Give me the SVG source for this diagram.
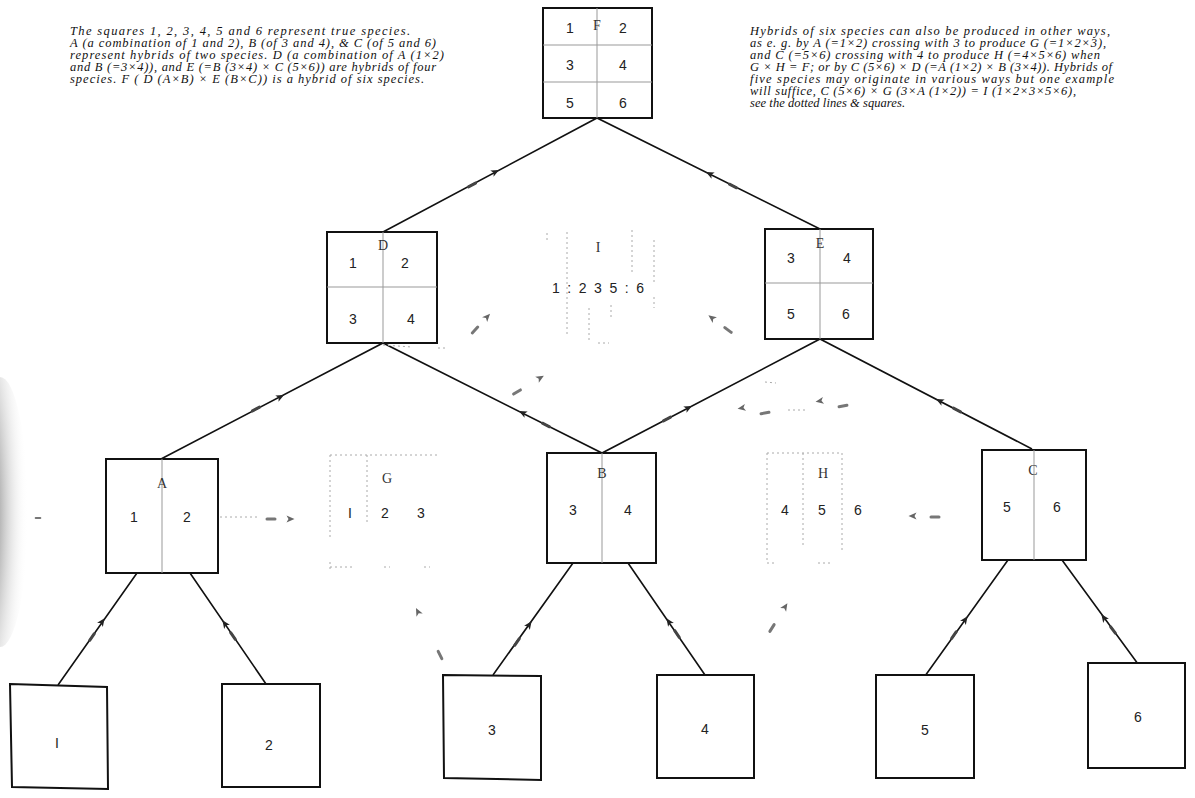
<svg xmlns="http://www.w3.org/2000/svg" xmlns:xlink="http://www.w3.org/1999/xlink" width="1195" height="798" viewBox="0 0 1195 798">
<style>
.box{fill:#fff;stroke:#111;stroke-width:2}
.div{stroke:#999;stroke-width:1;fill:none}
.dot{stroke:#aaa;stroke-width:1;stroke-dasharray:2 3;fill:none}
.ln{stroke:#111;stroke-width:1.6;fill:none}
.num{font-family:"Liberation Sans",Arial,sans-serif;font-size:14px;fill:#222;text-anchor:middle}
.lab{font-family:"Liberation Serif","Times New Roman",serif;font-size:14px;fill:#333;text-anchor:middle}
.txt{font-family:"Liberation Serif","Times New Roman",serif;font-style:italic;font-size:12.5px;fill:#111}
.ah{fill:#222}
.dh{stroke:#444;stroke-width:3;stroke-linecap:round}
.fah{fill:#666}
.fdh{stroke:#777;stroke-width:3;stroke-linecap:round}
</style>
<defs>
<path id="ah" d="M4.5,0 L-3.5,-3.5 L-1.5,0 L-3.5,3.5 Z"/>
<path id="dh" d="M-4,0 L4,0"/>
<radialGradient id="shadow" cx="0" cy="0.5" r="1">
<stop offset="0" stop-color="#333" stop-opacity="1"/>
<stop offset="0.5" stop-color="#888" stop-opacity="0.6"/>
<stop offset="1" stop-color="#fff" stop-opacity="0"/>
</radialGradient>
</defs>
<rect width="1195" height="798" fill="#fff"/>
<ellipse cx="0" cy="512" rx="28" ry="135" fill="url(#shadow)"/>

<g id="text-left" class="txt">
<text x="70" y="35" textLength="340" lengthAdjust="spacing">The squares 1, 2, 3, 4, 5 and 6 represent true species.</text>
<text x="70" y="47" textLength="366" lengthAdjust="spacing">A (a combination of 1 and 2), B (of 3 and 4), &amp; C (of 5 and 6)</text>
<text x="70" y="59" textLength="374" lengthAdjust="spacing">represent hybrids of two species. D (a combination of A (1×2)</text>
<text x="70" y="71" textLength="366" lengthAdjust="spacing">and B (=3×4)), and E (=B (3×4) × C (5×6)) are hybrids of four</text>
<text x="70" y="83" textLength="354" lengthAdjust="spacing">species. F ( D (A×B) × E (B×C)) is a hybrid of six species.</text>
</g>
<g id="text-right" class="txt">
<text x="750" y="35" textLength="360" lengthAdjust="spacing">Hybrids of six species can also be produced in other ways,</text>
<text x="750" y="47" textLength="356" lengthAdjust="spacing">as e. g. by A (=1×2) crossing with 3 to produce G (=1×2×3),</text>
<text x="750" y="59" textLength="350" lengthAdjust="spacing">and C (=5×6) crossing with 4 to produce H (=4×5×6) when</text>
<text x="750" y="71" textLength="362" lengthAdjust="spacing">G × H = F; or by C (5×6) × D (=A (1×2) × B (3×4)). Hybrids of</text>
<text x="750" y="83" textLength="364" lengthAdjust="spacing">five species may originate in various ways but one example</text>
<text x="750" y="95" textLength="326" lengthAdjust="spacing">will suffice, C (5×6) × G (3×A (1×2)) = I (1×2×3×5×6),</text>
<text x="750" y="107" textLength="155" lengthAdjust="spacing">see the dotted lines &amp; squares.</text>
</g>

<g id="connectors">
<path class="ln" d="M383,232 L597,118 L820,229"/>
<path class="ln" d="M161,459 L383,343 L602,453 L820,339 L1032,449"/>
<path class="ln" d="M58,685 L137,573 M190,573 L266,684"/>
<path class="ln" d="M493,675 L573,563 M628,563 L705,675"/>
<path class="ln" d="M925,676 L1008,560 M1062,560 L1138,664"/>
<g class="ah">
<use xlink:href="#ah" transform="translate(495,172) rotate(-28)"/>
<use xlink:href="#ah" transform="translate(710,174) rotate(-153.5)"/>
<use xlink:href="#ah" transform="translate(280,397) rotate(-27.6)"/>
<use xlink:href="#ah" transform="translate(523,413) rotate(-153.3)"/>
<use xlink:href="#ah" transform="translate(688,408) rotate(-27.6)"/>
<use xlink:href="#ah" transform="translate(940,401) rotate(-152.6)"/>
<use xlink:href="#ah" transform="translate(102,622) rotate(-54.8)"/>
<use xlink:href="#ah" transform="translate(225,624) rotate(-125.5)"/>
<use xlink:href="#ah" transform="translate(529,625) rotate(-54.5)"/>
<use xlink:href="#ah" transform="translate(669,622) rotate(-124.5)"/>
<use xlink:href="#ah" transform="translate(965,620) rotate(-54.4)"/>
<use xlink:href="#ah" transform="translate(1104,618) rotate(-126.2)"/>
</g>
<g class="dh">
<use xlink:href="#dh" transform="translate(472,185) rotate(-28)"/>
<use xlink:href="#dh" transform="translate(733,186) rotate(-153.5)"/>
<use xlink:href="#dh" transform="translate(256,409) rotate(-27.6)"/>
<use xlink:href="#dh" transform="translate(546,425) rotate(-153.3)"/>
<use xlink:href="#dh" transform="translate(667,419) rotate(-27.6)"/>
<use xlink:href="#dh" transform="translate(957,410) rotate(-152.6)"/>
<use xlink:href="#dh" transform="translate(92,637) rotate(-54.8)"/>
<use xlink:href="#dh" transform="translate(233,636) rotate(-125.5)"/>
<use xlink:href="#dh" transform="translate(517,642) rotate(-54.5)"/>
<use xlink:href="#dh" transform="translate(677,634) rotate(-124.5)"/>
<use xlink:href="#dh" transform="translate(954,635) rotate(-54.4)"/>
<use xlink:href="#dh" transform="translate(1113,630) rotate(-126.2)"/>
</g>
<path class="dot" d="M220,517 L258,517 M383,345 L412,347 M438,348 L448,348"/>
<g class="fah">
<use xlink:href="#ah" transform="translate(290,519)"/>
<use xlink:href="#ah" transform="translate(418,612) rotate(-117)"/>
<use xlink:href="#ah" transform="translate(487,317) rotate(-47)"/>
<use xlink:href="#ah" transform="translate(540,378) rotate(-31)"/>
<use xlink:href="#ah" transform="translate(712,318) rotate(-143)"/>
<use xlink:href="#ah" transform="translate(742,408) rotate(170)"/>
<use xlink:href="#ah" transform="translate(820,401) rotate(170)"/>
<use xlink:href="#ah" transform="translate(785,607) rotate(-58)"/>
<use xlink:href="#ah" transform="translate(913,516) rotate(180)"/>
</g>
<g class="fdh">
<use xlink:href="#dh" transform="translate(271,519)"/>
<use xlink:href="#dh" transform="translate(440,655) rotate(-117)"/>
<use xlink:href="#dh" transform="translate(475,330) rotate(-47)"/>
<use xlink:href="#dh" transform="translate(517,392) rotate(-31)"/>
<use xlink:href="#dh" transform="translate(728,330) rotate(-143)"/>
<use xlink:href="#dh" transform="translate(765,413) rotate(170)"/>
<use xlink:href="#dh" transform="translate(843,406) rotate(170)"/>
<use xlink:href="#dh" transform="translate(772,628) rotate(-58)"/>
<use xlink:href="#dh" transform="translate(935,517)"/>
<use xlink:href="#dh" transform="translate(951,752) scale(0.4)"/>
<use xlink:href="#dh" transform="translate(38,518) scale(0.6)"/>
</g>
<path class="dot" d="M788,410 L806,410 M765,382 L776,383"/>
</g>

<g id="node-F">
<rect class="box" x="543" y="8" width="109" height="110"/>
<path class="div" d="M597,8 V118 M543,45 H652 M543,82 H652"/>
<text class="lab" x="597" y="30">F</text>
<text class="num" x="570" y="33">1</text><text class="num" x="623" y="33">2</text>
<text class="num" x="570" y="70">3</text><text class="num" x="623" y="70">4</text>
<text class="num" x="570" y="108">5</text><text class="num" x="623" y="108">6</text>
</g>
<g id="node-D">
<rect class="box" x="327" y="232" width="110" height="111"/>
<path class="div" d="M383,232 V343 M327,287 H437"/>
<text class="lab" x="383" y="250">D</text>
<text class="num" x="353" y="268">1</text><text class="num" x="405" y="268">2</text>
<text class="num" x="353" y="324">3</text><text class="num" x="411" y="324">4</text>
</g>
<g id="node-E">
<rect class="box" x="765" y="229" width="108" height="110"/>
<path class="div" d="M820,229 V339 M765,283 H873"/>
<text class="lab" x="820" y="248">E</text>
<text class="num" x="791" y="263">3</text><text class="num" x="847" y="263">4</text>
<text class="num" x="791" y="319">5</text><text class="num" x="846" y="319">6</text>
</g>
<g id="node-I">
<path class="dot" d="M567,232 V337 M632,230 V272 M589,308 V342 M611,305 V318 M654,240 V282 M654,297 V308 M598,343 H609 M547,233 V241"/>
<text class="lab" x="598" y="252">I</text>
<text class="num" x="598" y="293" textLength="92" lengthAdjust="spacing">1 : 2  3  5 : 6</text>
</g>
<g id="node-A">
<rect class="box" x="106" y="459" width="112" height="114"/>
<path class="div" d="M162,459 V573"/>
<text class="lab" x="162" y="488">A</text>
<text class="num" x="134" y="522">1</text><text class="num" x="187" y="522">2</text>
</g>
<g id="node-G">
<path class="dot" d="M330,455 V540 M330,562 V570 M367,455 V522 M330,455 H440 M330,567 H352 M384,567 H390 M424,567 H430"/>
<text class="lab" x="387" y="483">G</text>
<text class="num" x="350" y="518">I</text><text class="num" x="385" y="518">2</text><text class="num" x="421" y="518">3</text>
</g>
<g id="node-B">
<rect class="box" x="547" y="453" width="109" height="110"/>
<path class="div" d="M602,453 V563"/>
<text class="lab" x="602" y="478">B</text>
<text class="num" x="573" y="515">3</text><text class="num" x="628" y="515">4</text>
</g>
<g id="node-H">
<path class="dot" d="M767,453 V563 M767,453 H842 V553 M803,453 V548 M767,563 H775 M818,563 H830"/>
<text class="lab" x="823" y="478">H</text>
<text class="num" x="785" y="515">4</text><text class="num" x="822" y="515">5</text><text class="num" x="858" y="515">6</text>
</g>
<g id="node-C">
<rect class="box" x="982" y="450" width="104" height="110"/>
<path class="div" d="M1034,450 V560"/>
<text class="lab" x="1033" y="475">C</text>
<text class="num" x="1007" y="512">5</text><text class="num" x="1057" y="512">6</text>
</g>
<g id="node-1">
<path class="box" d="M10,684 L107,687 L108,789 L12,787 Z"/>
<text class="num" x="57" y="748">I</text>
</g>
<g id="node-2">
<rect class="box" x="222" y="684" width="98" height="103"/>
<text class="num" x="269" y="750">2</text>
</g>
<g id="node-3">
<path class="box" d="M443,675 L541,676 L541,780 L444,778 Z"/>
<text class="num" x="492" y="735">3</text>
</g>
<g id="node-4">
<rect class="box" x="657" y="675" width="97" height="103"/>
<text class="num" x="705" y="734">4</text>
</g>
<g id="node-5">
<rect class="box" x="876" y="675" width="98" height="103"/>
<text class="num" x="925" y="735">5</text>
</g>
<g id="node-6">
<rect class="box" x="1088" y="663" width="97" height="105"/>
<text class="num" x="1138" y="722">6</text>
</g>
</svg>
